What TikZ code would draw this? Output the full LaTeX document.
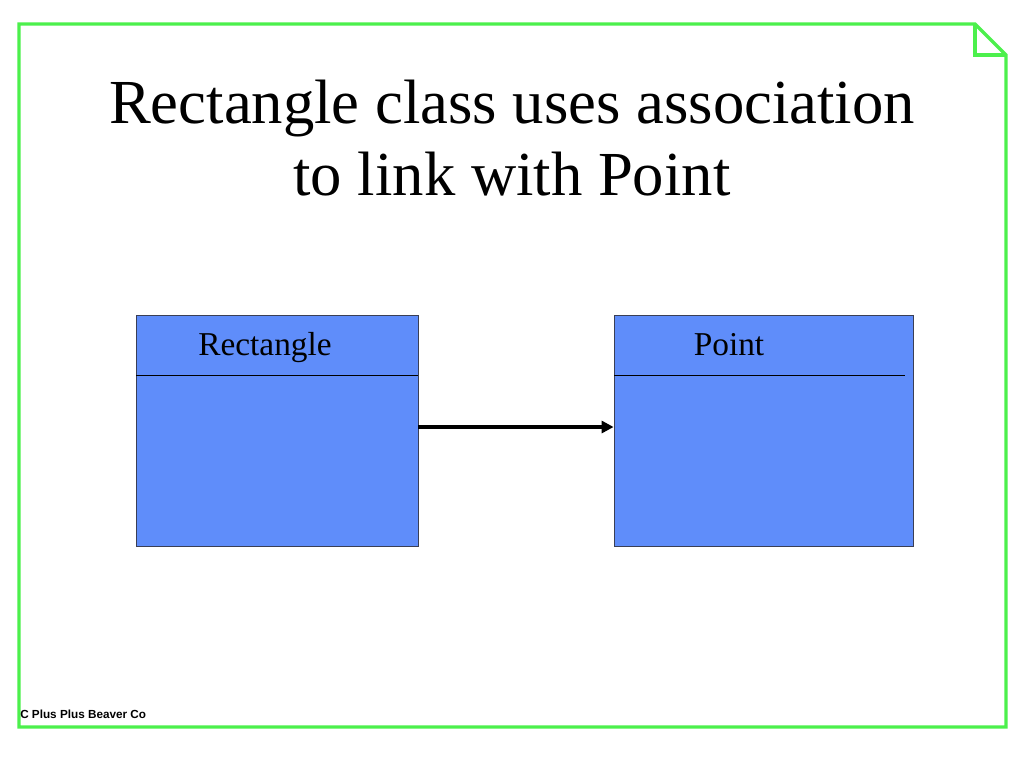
\documentclass[tikz,border=0pt]{standalone}
\usepackage{fontspec}
\setmainfont{Liberation Serif}
\setsansfont{Liberation Sans}
\usepackage{xcolor}
\usepackage{tikz}
\usetikzlibrary{arrows.meta}
\definecolor{frame}{HTML}{4CF04C}
\definecolor{boxfill}{HTML}{5F8DFA}
\definecolor{boxline}{HTML}{3A3F55}
\tikzset{
  edge/.style={draw=frame, line width=2.6pt, line join=miter},
  cls/.style={draw=boxline, fill=boxfill, line width=0.6pt, rectangle, inner sep=0pt},
  sep/.style={draw=black, line width=0.6pt},
  assoc/.style={draw=black, line width=2.3pt, -{Triangle[length=9pt,width=9pt]}},
  lab/.style={font=\fontsize{25}{30}\selectfont, inner sep=0pt, anchor=base},
}
\begin{document}
\begin{tikzpicture}[x=0.75pt,y=-0.75pt]
  \useasboundingbox (0,0) rectangle (1024,768);
  % page outline with folded corner
  \draw[edge] (19,24) -- (975,24) -- (1006,55) -- (1006,727) -- (19,727) -- cycle;
  \draw[edge] (975,24) -- (975,55) -- (1006,55);

  \node[align=center, font=\fontsize{47}{54}\selectfont] (title) at (512,138)
    {Rectangle class uses association\\to link with Point};

  % classes
  \node[cls, minimum width=282*0.75pt, minimum height=231*0.75pt] (rect) at (277,430.5) {};
  \node[cls, minimum width=299*0.75pt, minimum height=231*0.75pt] (point) at (763.5,430.5) {};
  \draw[sep] (136,375) -- (418,375);
  \draw[sep] (614,375) -- (905,375);
  \node[lab] (rectname) at (265,355) {Rectangle};
  \node[lab] (pointname) at (729,355) {Point};

  \draw[assoc] (rect.east |- 0,427) -- (point.west |- 0,427);

  \node[anchor=west, font=\sffamily\bfseries\fontsize{8.8}{9}\selectfont, inner sep=0pt] (foot) at (20,714)
    {C Plus Plus Beaver Co};
\end{tikzpicture}
\end{document}
